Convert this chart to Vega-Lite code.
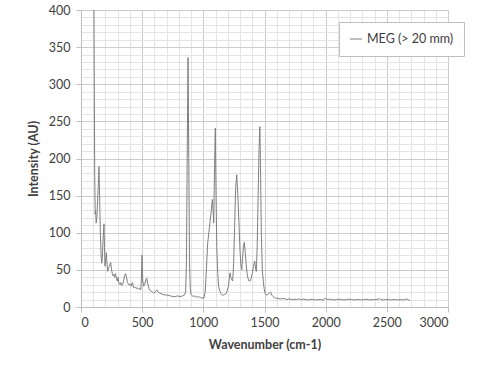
{
  "$schema": "https://vega.github.io/schema/vega-lite/v6.json",
  "width": 367,
  "height": 297,
  "autosize": "none",
  "padding": {"left": 81, "top": 10, "right": 52, "bottom": 58},
  "background": "white",
  "config": {
    "view": {"stroke": null},
    "font": "Lato",
    "axis": {"labelFont": "Lato", "titleFont": "Lato", "labelColor": "#404040", "titleColor": "#404040", "labelFontSize": 12.5, "titleFontSize": 12.5, "titleFontWeight": "bold"}
  },
  "data": {
    "values": [
      {"x": 106, "y": 400}, {"x": 112, "y": 180}, {"x": 116, "y": 125}, {"x": 120, "y": 130}, {"x": 124, "y": 113}, {"x": 130, "y": 120},
      {"x": 140, "y": 160}, {"x": 147, "y": 189}, {"x": 152, "y": 150}, {"x": 158, "y": 100}, {"x": 164, "y": 70}, {"x": 169, "y": 59},
      {"x": 174, "y": 65}, {"x": 180, "y": 90}, {"x": 188, "y": 112}, {"x": 192, "y": 80}, {"x": 196, "y": 55}, {"x": 201, "y": 62},
      {"x": 207, "y": 73}, {"x": 212, "y": 60}, {"x": 218, "y": 48}, {"x": 225, "y": 52}, {"x": 232, "y": 55}, {"x": 238, "y": 58},
      {"x": 243, "y": 60}, {"x": 250, "y": 50}, {"x": 256, "y": 45}, {"x": 262, "y": 42}, {"x": 268, "y": 44}, {"x": 275, "y": 40},
      {"x": 282, "y": 45}, {"x": 290, "y": 38}, {"x": 297, "y": 35}, {"x": 303, "y": 40}, {"x": 310, "y": 32}, {"x": 318, "y": 30},
      {"x": 325, "y": 33}, {"x": 332, "y": 29}, {"x": 340, "y": 30}, {"x": 348, "y": 35}, {"x": 356, "y": 42}, {"x": 365, "y": 45},
      {"x": 372, "y": 40}, {"x": 380, "y": 33}, {"x": 390, "y": 30}, {"x": 400, "y": 31}, {"x": 410, "y": 28}, {"x": 420, "y": 33},
      {"x": 430, "y": 26}, {"x": 440, "y": 27}, {"x": 450, "y": 25}, {"x": 460, "y": 26}, {"x": 470, "y": 24}, {"x": 480, "y": 25},
      {"x": 488, "y": 23}, {"x": 493, "y": 35}, {"x": 499, "y": 70}, {"x": 505, "y": 35}, {"x": 512, "y": 28}, {"x": 520, "y": 30},
      {"x": 530, "y": 37}, {"x": 537, "y": 39}, {"x": 545, "y": 32}, {"x": 555, "y": 25}, {"x": 565, "y": 22}, {"x": 575, "y": 21},
      {"x": 585, "y": 20}, {"x": 595, "y": 19}, {"x": 605, "y": 20}, {"x": 615, "y": 22}, {"x": 622, "y": 23}, {"x": 630, "y": 20},
      {"x": 640, "y": 19}, {"x": 655, "y": 18}, {"x": 670, "y": 17}, {"x": 690, "y": 16}, {"x": 710, "y": 16}, {"x": 730, "y": 15},
      {"x": 750, "y": 14}, {"x": 770, "y": 14}, {"x": 790, "y": 15}, {"x": 810, "y": 14}, {"x": 830, "y": 15}, {"x": 845, "y": 16},
      {"x": 855, "y": 20}, {"x": 862, "y": 60}, {"x": 868, "y": 200}, {"x": 875, "y": 336}, {"x": 881, "y": 200}, {"x": 887, "y": 60},
      {"x": 893, "y": 25}, {"x": 900, "y": 17}, {"x": 910, "y": 15}, {"x": 920, "y": 14}, {"x": 930, "y": 15}, {"x": 940, "y": 14},
      {"x": 950, "y": 13}, {"x": 960, "y": 14}, {"x": 975, "y": 13}, {"x": 990, "y": 12}, {"x": 1005, "y": 12}, {"x": 1015, "y": 20},
      {"x": 1025, "y": 50}, {"x": 1035, "y": 85}, {"x": 1045, "y": 100}, {"x": 1055, "y": 115}, {"x": 1065, "y": 130}, {"x": 1074, "y": 145},
      {"x": 1080, "y": 130}, {"x": 1085, "y": 113}, {"x": 1091, "y": 180}, {"x": 1098, "y": 241}, {"x": 1104, "y": 150}, {"x": 1110, "y": 80},
      {"x": 1118, "y": 45}, {"x": 1125, "y": 28}, {"x": 1135, "y": 21}, {"x": 1145, "y": 18}, {"x": 1155, "y": 16}, {"x": 1165, "y": 16},
      {"x": 1175, "y": 17}, {"x": 1185, "y": 18}, {"x": 1195, "y": 22}, {"x": 1205, "y": 28}, {"x": 1212, "y": 38}, {"x": 1218, "y": 46},
      {"x": 1225, "y": 40}, {"x": 1232, "y": 37}, {"x": 1240, "y": 35}, {"x": 1248, "y": 60}, {"x": 1256, "y": 110}, {"x": 1264, "y": 160},
      {"x": 1273, "y": 178}, {"x": 1282, "y": 150}, {"x": 1292, "y": 110}, {"x": 1300, "y": 75}, {"x": 1308, "y": 55}, {"x": 1314, "y": 50},
      {"x": 1320, "y": 65}, {"x": 1328, "y": 82}, {"x": 1335, "y": 87}, {"x": 1342, "y": 75}, {"x": 1350, "y": 58}, {"x": 1358, "y": 45},
      {"x": 1366, "y": 38}, {"x": 1374, "y": 35}, {"x": 1381, "y": 35}, {"x": 1390, "y": 38}, {"x": 1400, "y": 45}, {"x": 1410, "y": 55},
      {"x": 1420, "y": 62}, {"x": 1427, "y": 52}, {"x": 1433, "y": 48}, {"x": 1440, "y": 80}, {"x": 1448, "y": 150}, {"x": 1455, "y": 210},
      {"x": 1462, "y": 243}, {"x": 1468, "y": 180}, {"x": 1474, "y": 100}, {"x": 1482, "y": 50}, {"x": 1490, "y": 35}, {"x": 1497, "y": 25},
      {"x": 1505, "y": 18}, {"x": 1512, "y": 17}, {"x": 1520, "y": 16}, {"x": 1530, "y": 17}, {"x": 1540, "y": 19}, {"x": 1551, "y": 20},
      {"x": 1560, "y": 16}, {"x": 1570, "y": 14}, {"x": 1580, "y": 13}, {"x": 1590, "y": 12}, {"x": 1600, "y": 12}, {"x": 1620, "y": 11},
      {"x": 1640, "y": 11}, {"x": 1660, "y": 11.5}, {"x": 1680, "y": 10}, {"x": 1700, "y": 11}, {"x": 1720, "y": 10}, {"x": 1740, "y": 10.5},
      {"x": 1760, "y": 10}, {"x": 1780, "y": 11}, {"x": 1800, "y": 10}, {"x": 1820, "y": 10.5}, {"x": 1840, "y": 10}, {"x": 1860, "y": 9.5},
      {"x": 1880, "y": 10.5}, {"x": 1900, "y": 10}, {"x": 1920, "y": 9.5}, {"x": 1940, "y": 10}, {"x": 1960, "y": 10}, {"x": 1980, "y": 9.5},
      {"x": 2000, "y": 12}, {"x": 2010, "y": 10}, {"x": 2030, "y": 10.5}, {"x": 2050, "y": 10}, {"x": 2070, "y": 9.5}, {"x": 2090, "y": 10},
      {"x": 2110, "y": 10.5}, {"x": 2130, "y": 10}, {"x": 2150, "y": 9.5}, {"x": 2170, "y": 10}, {"x": 2190, "y": 10.5}, {"x": 2210, "y": 10},
      {"x": 2230, "y": 9.5}, {"x": 2250, "y": 10}, {"x": 2270, "y": 10}, {"x": 2290, "y": 9.5}, {"x": 2310, "y": 10}, {"x": 2330, "y": 10.5},
      {"x": 2350, "y": 10}, {"x": 2370, "y": 9.5}, {"x": 2390, "y": 10}, {"x": 2410, "y": 10}, {"x": 2430, "y": 10.5}, {"x": 2440, "y": 11.5},
      {"x": 2450, "y": 10}, {"x": 2470, "y": 9.5}, {"x": 2490, "y": 10}, {"x": 2510, "y": 10}, {"x": 2530, "y": 9.5}, {"x": 2550, "y": 10},
      {"x": 2570, "y": 10}, {"x": 2590, "y": 9.5}, {"x": 2610, "y": 10}, {"x": 2630, "y": 9.5}, {"x": 2650, "y": 10}, {"x": 2665, "y": 11},
      {"x": 2675, "y": 9.5}, {"x": 2690, "y": 9}
    ]
  },
  "layer": [
    {
      "mark": {"type": "line", "opacity": 0},
      "encoding": {
        "x": {"field": "x", "type": "quantitative", "scale": {"domain": [0, 3000], "nice": false},
          "axis": {"orient": "top", "values": [0,100,200,300,400,500,600,700,800,900,1000,1100,1200,1300,1400,1500,1600,1700,1800,1900,2000,2100,2200,2300,2400,2500,2600,2700,2800,2900,3000],
            "grid": true, "gridColor": "#e4e4e4", "labels": false, "ticks": false, "domain": false, "title": null}},
        "y": {"field": "y", "type": "quantitative", "scale": {"domain": [0, 400], "nice": false},
          "axis": {"orient": "right", "values": [0,10,20,30,40,50,60,70,80,90,100,110,120,130,140,150,160,170,180,190,200,210,220,230,240,250,260,270,280,290,300,310,320,330,340,350,360,370,380,390,400],
            "grid": true, "gridColor": "#e4e4e4", "labels": false, "ticks": false, "domain": false, "title": null}}
      }
    },
    {
      "mark": {"type": "line", "strokeWidth": 1, "clip": true},
      "encoding": {
        "x": {"field": "x", "type": "quantitative", "scale": {"domain": [0, 3000], "nice": false},
          "axis": {"orient": "bottom", "values": [0,500,1000,1500,2000,2500,3000], "format": "d", "grid": true, "gridColor": "#cccccc",
            "domainColor": "#bfbfbf", "tickColor": "#bfbfbf", "tickSize": 5, "labelPadding": 4, "title": "Wavenumber (cm-1)", "titlePadding": 10}},
        "y": {"field": "y", "type": "quantitative", "scale": {"domain": [0, 400], "nice": false},
          "axis": {"orient": "left", "values": [0,50,100,150,200,250,300,350,400], "format": "d", "grid": true, "gridColor": "#cccccc",
            "domainColor": "#bfbfbf", "tickColor": "#bfbfbf", "tickSize": 5, "labelPadding": 6, "title": "Intensity (AU)", "titlePadding": 8}},
        "color": {"datum": "MEG (> 20 mm)", "type": "nominal", "scale": {"range": ["#7f7f7f"]},
          "legend": {"title": null, "orient": "none", "legendX": 258, "legendY": 12, "symbolType": "stroke", "symbolSize": 150, "symbolStrokeWidth": 1,
            "labelFont": "Lato", "labelFontSize": 12.5, "labelColor": "#404040", "fillColor": "white", "strokeColor": "#bfbfbf", "padding": 10}}
      }
    }
  ],
  "resolve": {"axis": {"x": "independent", "y": "independent"}}
}
